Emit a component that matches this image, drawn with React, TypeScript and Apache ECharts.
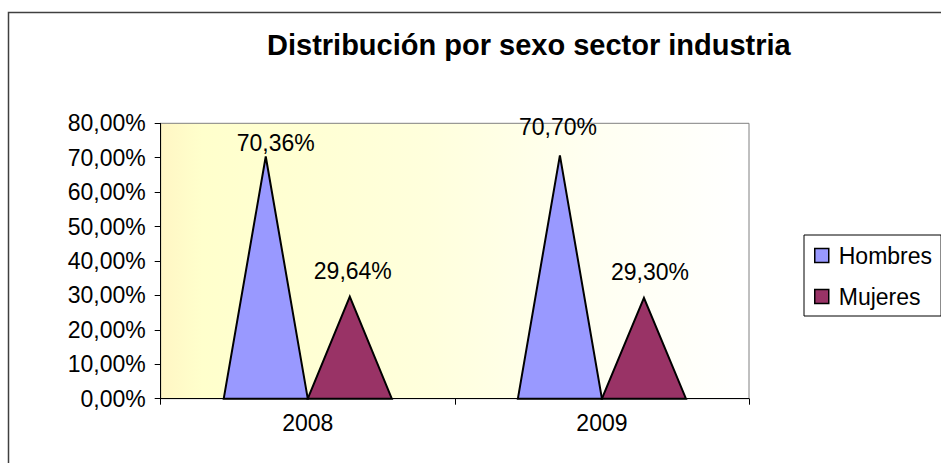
import React, { useEffect, useRef } from "react";
import * as echarts from "echarts";

const categories = ["2008", "2009"];
const seriesNames = ["Hombres", "Mujeres"];
const hombres = [70.36, 70.7];
const mujeres = [29.64, 29.3];
const yTicks = { min: 0, max: 80, interval: 10 };

const fmt = (v: number) => v.toFixed(2).replace(".", ",") + "%";

export default function App() {
  const ref = useRef<HTMLDivElement>(null);
  useEffect(() => {
    document.body.style.margin = "0";
    if (!ref.current) return;
    const chart = echarts.init(ref.current, undefined, { renderer: "svg" });
    const font = "'Liberation Sans', Arial, sans-serif";
    const fontSize = 23;
    const colors = ["#9999FF", "#993366"];
    const barFrac = 84 / 294; // width of one triangle relative to category band
    // per-label nudges [dx, distance]
    const labelTweak: Record<string, [number, number]> = {
      "0-0": [10, 2],
      "0-1": [-2, 17],
      "1-0": [3, 14],
      "1-1": [6, 14],
    };
    const makeSeries = (vals: number[], s: number) => ({
      name: seriesNames[s],
      type: "custom",
      itemStyle: { color: colors[s] },
      encode: { x: 0, y: 1 },
      data: vals.map((v, i) => [i, v]),
      renderItem: (params: any, api: any) => {
        const cat = api.value(0);
        const val = api.value(1);
        const base = api.coord([cat, 0]);
        const top = api.coord([cat, val]);
        const band = api.size([1, 0])[0];
        const bw = band * barFrac;
        const cx = s === 0 ? base[0] - bw / 2 : base[0] + bw / 2;
        const t = labelTweak[`${s}-${params.dataIndex}`];
        return {
          type: "group",
          children: [
            {
              type: "polygon",
              shape: {
                points: [
                  [cx - bw / 2, base[1]],
                  [cx, top[1]],
                  [cx + bw / 2, base[1]],
                ],
              },
              style: { fill: api.visual("color"), stroke: "#000", lineWidth: 2, lineJoin: "miter" },
            },
            {
              type: "text",
              x: cx + t[0],
              y: top[1] - t[1],
              style: {
                text: fmt(val),
                fill: "#000",
                fontSize,
                fontFamily: font,
                align: "center",
                verticalAlign: "bottom",
              },
            },
          ],
        };
      },
    });
    const option: any = {
      animation: false,
      textStyle: { fontFamily: font },
      title: {
        text: "Distribución por sexo sector industria",
        left: 267,
        top: 30,
        padding: 0,
        textStyle: { fontSize: 29, fontWeight: "bold", color: "#000", fontFamily: font },
      },
      graphic: [
        {
          type: "rect",
          z: -10,
          shape: { x: 8.5, y: 12.5, width: 1000, height: 1000 },
          style: { fill: "none", stroke: "#404040", lineWidth: 1.5 },
        },
      ],
      legend: {
        orient: "vertical",
        left: 804,
        top: 235,
        padding: [9, 9, 8, 10],
        itemGap: 18,
        itemWidth: 14,
        itemHeight: 14,
        icon: "rect",
        borderColor: "#000",
        borderWidth: 1,
        data: seriesNames.map((n) => ({ name: n, itemStyle: { borderColor: "#000", borderWidth: 1.5 } })),
        textStyle: { fontSize, color: "#000", fontFamily: font, padding: [0, 0, 0, 5] },
      },
      grid: {
        left: 160.7,
        right: 192,
        top: 123.3,
        bottom: 64.3,
        show: true,
        borderColor: "#808080",
        borderWidth: 1,
        backgroundColor: new echarts.graphic.LinearGradient(0, 0, 1, 0, [
          { offset: 0, color: "#FFF6C4" },
          { offset: 0.07, color: "#FFFFCC" },
          { offset: 0.45, color: "#FFFFDC" },
          { offset: 0.75, color: "#FFFFF2" },
          { offset: 1, color: "#FFFFFF" },
        ]),
      },
      xAxis: {
        type: "category",
        data: categories,
        axisLine: { lineStyle: { color: "#000", width: 1 } },
        axisTick: { show: true, length: 6, lineStyle: { color: "#000" } },
        axisLabel: { fontSize, color: "#000", margin: 13, fontFamily: font },
        splitLine: { show: false },
      },
      yAxis: {
        type: "value",
        min: yTicks.min,
        max: yTicks.max,
        interval: yTicks.interval,
        axisLine: { show: true, lineStyle: { color: "#000", width: 1 } },
        axisTick: { show: true, length: 6, lineStyle: { color: "#000" } },
        axisLabel: { fontSize, color: "#000", margin: 15, fontFamily: font, formatter: (v: number) => fmt(v) },
        splitLine: { show: false },
      },
      series: [makeSeries(hombres, 0), makeSeries(mujeres, 1)],
    };
    chart.setOption(option);
    return () => chart.dispose();
  }, []);
  return <div ref={ref} style={{ width: 941, height: 463 }} />;
}
